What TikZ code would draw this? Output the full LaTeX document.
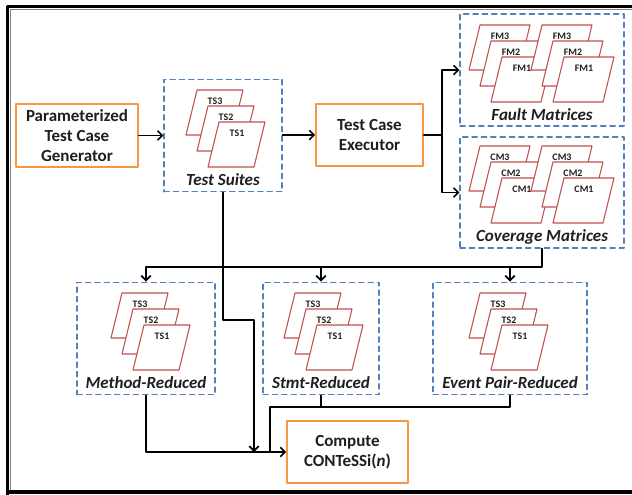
\documentclass[tikz,border=0pt]{standalone}
\usepackage{fontspec}
\setmainfont{Carlito}
\usetikzlibrary{arrows,arrows.meta,positioning}
\definecolor{ffvvqq}{rgb}{0.97,0.59,0.27}
\definecolor{qqvvcc}{rgb}{0.31,0.51,0.74}
\definecolor{ccqqqq}{rgb}{0.75,0.31,0.30}
\definecolor{uququq}{rgb}{0.12,0.12,0.12}
\tikzset{
  stepbox/.style={draw=ffvvqq,line width=1.5pt,align=center,inner sep=0pt,text=uququq,
    font=\fontsize{14.5}{17}\selectfont\bfseries},
  group/.style={draw=qqvvcc,line width=1.1pt,dash pattern=on 4.5pt off 3.5pt,inner sep=0pt,
    minimum height=3.38cm},
  sheet/.style={draw=ccqqqq,line width=0.9pt,fill=white},
  sheetlabel/.style={font=\fontsize{8.5}{9}\selectfont\bfseries,text=uququq,inner sep=0pt},
  caption/.style={font=\fontsize{14.5}{16}\selectfont\bfseries\itshape,text=uququq,inner sep=0pt},
  link/.style={line width=1.4pt}
}
% three stacked sheets: x, y, width, prefix, id
\newcommand{\sheetstack}[5]{%
  \foreach \i/\dx/\dy in {3/0/0,2/11/16,1/22/32}{
    \begin{scope}[shift={(#1+\dx,#2+\dy)}]
      \draw[sheet] (0,0) -- (#3,0) -- (#3-11,45) -- (-11,45) -- cycle;
      \node[sheetlabel] (#5\i) at (#3/2-5,11) {#4\i};
    \end{scope}}}
\begin{document}
\begin{tikzpicture}[line cap=round,line join=round,>={Straight Barb[length=4pt,width=8pt]},x=0.03cm,y=-0.03cm]
\useasboundingbox (0,0) rectangle (632,494);
\clip (0,0) rectangle (632,494);
\fill[white] (0,0) rectangle (632,494);
% frame
\draw[line width=2.6pt] (7.5,520) -- (7.5,6.5) -- (660,6.5);
\draw[line width=2.6pt] (7.5,492) -- (660,492);
\draw[gray,line width=0.6pt] (10,490) -- (10,9.3) -- (660,9.3);
% steps
\node[stepbox,minimum width=3.66cm,minimum height=1.89cm] (param) at (77,135.5) {Parameterized\\Test Case\\Generator};
\node[stepbox,minimum width=3.21cm,minimum height=1.86cm] (exec) at (369.5,135) {Test Case\\Executor};
\node[stepbox,minimum width=3.63cm,minimum height=1.86cm] (compute) at (347.5,452) {Compute\\CONTeSSi(\textit{n})};
% groups
\node[group,minimum width=3.54cm] (suites) at (223,135.5) {};
\node[group,minimum width=4.92cm,minimum height=3.36cm] (fault) at (542,70) {};
\node[group,minimum width=4.92cm,minimum height=3.33cm] (cover) at (542,192.5) {};
\node[group,minimum width=4.14cm] (methred) at (146,338.5) {};
\node[group,minimum width=3.48cm] (stmtred) at (321,338.5) {};
\node[group,minimum width=4.62cm] (eventred) at (510,338.5) {};
% sheets
\sheetstack{197}{90}{46}{TS}{ts}
\sheetstack{480}{25}{50}{FM}{fma}
\sheetstack{542}{25}{50}{FM}{fmb}
\sheetstack{480}{146}{50}{CM}{cma}
\sheetstack{542}{146}{50}{CM}{cmb}
\sheetstack{122}{293}{46}{TS}{mts}
\sheetstack{295}{293}{46}{TS}{sts}
\sheetstack{480}{293}{46}{TS}{ets}
% captions
\node[caption] (suitescap) at (223,180) {Test Suites};
\node[caption] (faultcap) at (542,115) {Fault Matrices};
\node[caption] (covercap) at (542,237) {Coverage Matrices};
\node[caption] (methcap) at (146,383) {Method-Reduced};
\node[caption] (stmtcap) at (321,383) {Stmt-Reduced};
\node[caption] (eventcap) at (510,383) {Event Pair-Reduced};
% connectors
\coordinate (fork) at (442,135);
\coordinate (bus) at (0,267);
\coordinate (jog) at (254,320);
\coordinate (merge) at (270,407);
\draw[link,->] (param.east) -- (suites.west |- param.east);
\draw[link,->] (suites.east |- exec.west) -- (exec.west);
\draw[link] (exec.east) -- (fork);
\draw[link,->] (fork) |- (fault.west);
\draw[link,->] (fork) |- (cover.west);
\draw[link,->] (cover.south) |- (methred.north |- bus) -- (methred.north);
\draw[link,->] (stmtred.north |- bus) -- (stmtred.north);
\draw[link,->] (eventred.north |- bus) -- (eventred.north);
\draw[link,->] (suites.south) |- (jog) -- (jog |- compute.west);
\draw[link,->] (methred.south) |- (compute.west);
\draw[link] (eventred.south) |- (merge) -- (merge |- compute.west);
\draw[link] (stmtred.south) -- (stmtred.south |- merge);
\end{tikzpicture}
\end{document}
